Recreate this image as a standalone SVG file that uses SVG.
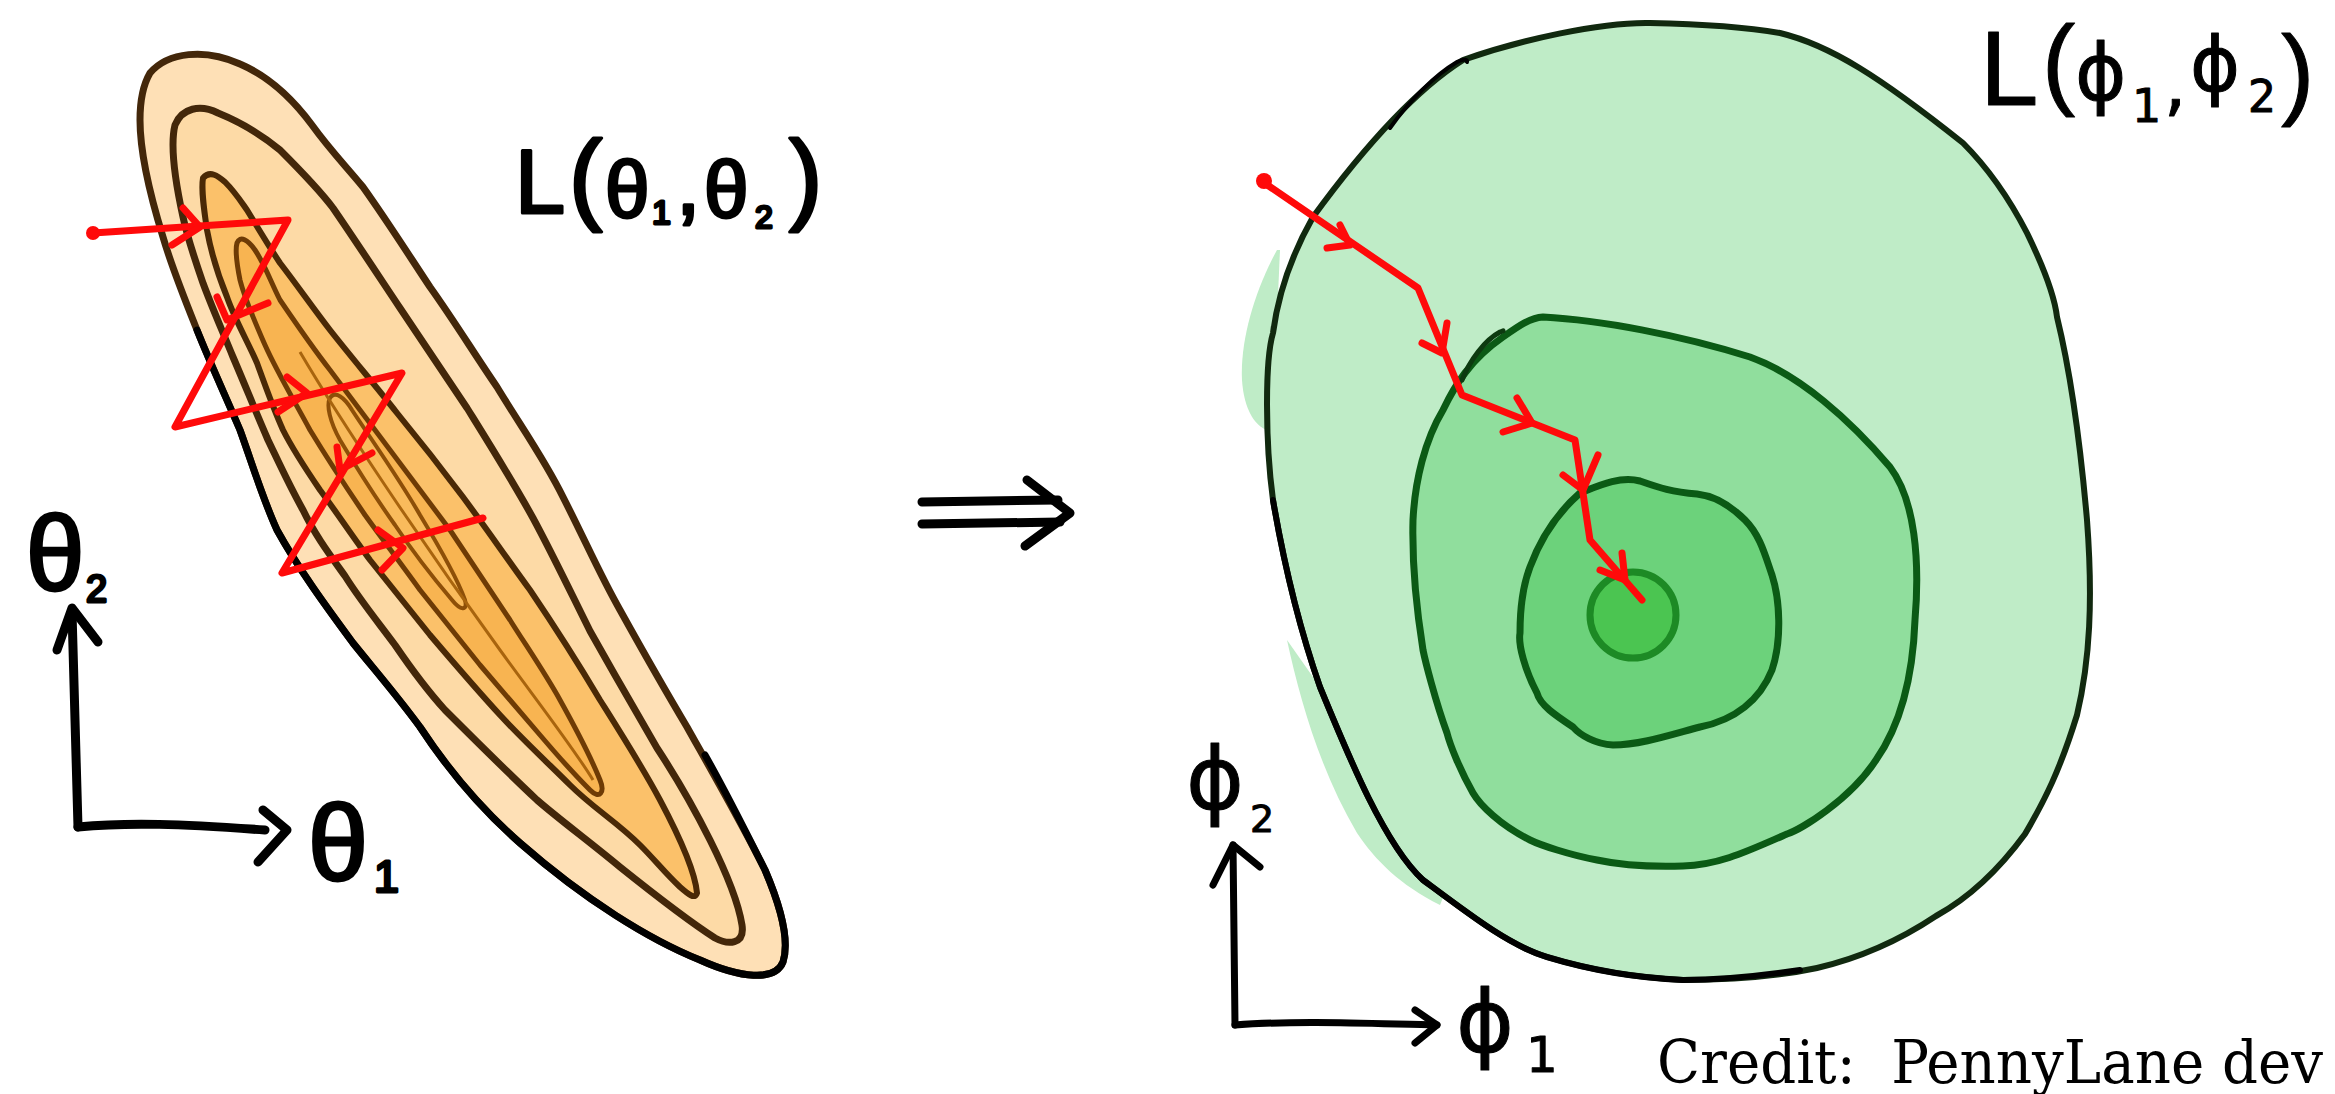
<svg xmlns="http://www.w3.org/2000/svg" width="2335" height="1094" viewBox="0 0 2335 1094">
<style>
.red{fill:none;stroke:#ff0a0a;stroke-width:7;stroke-linecap:round;stroke-linejoin:round}
.ink{fill:none;stroke:#000;stroke-width:9;stroke-linecap:round;stroke-linejoin:round}
.ink2{fill:none;stroke:#000;stroke-width:7;stroke-linecap:round;stroke-linejoin:round}
.hand{font-family:"Liberation Sans","DejaVu Sans",sans-serif;fill:#000;stroke:#000;stroke-width:3;stroke-linejoin:round}
.greek{font-family:"DejaVu Sans","Liberation Sans",sans-serif;fill:#000;stroke:#000;stroke-width:1;stroke-linejoin:round}
.brown{stroke:#43270a;stroke-width:7;stroke-linejoin:round}
.gline{stroke:#0b5a15;stroke-width:7;stroke-linejoin:round}
.credit{font-family:"DejaVu Serif Condensed","DejaVu Serif","Liberation Serif",serif;font-stretch:condensed;font-size:60px;fill:#000;white-space:pre}
</style>
<rect width="2335" height="1094" fill="#fff"/>

<g id="left-landscape">
  <path d="M150,73 C168,52 205,48 240,64 C268,76 292,98 312,125 C330,150 345,165 363,187 C390,225 410,257 430,287 C455,322 475,355 497,387 C520,425 545,460 563,497 C585,540 600,575 620,610 C645,655 665,690 687,727 C710,768 740,820 765,870 C780,905 790,940 783,962 C775,982 740,978 700,960 C650,940 585,900 520,843 C480,808 445,765 420,727 C395,693 373,668 353,643 C325,605 298,568 277,530 C262,497 252,463 240,430 C226,397 211,365 197,330 C185,300 172,268 163,237 C150,195 140,155 140,120 C140,100 143,85 150,73 Z" fill="#fee0b6" class="brown"/>
  <path d="M197,330 C211,365 226,397 240,430 C252,463 262,497 277,530 C298,568 325,605 353,643 C373,668 395,693 420,727 C445,765 480,808 520,843 C585,900 650,940 700,960 C740,978 775,982 783,962 C790,940 780,905 765,870 C745,830 725,790 705,755" fill="none" stroke="#000" stroke-width="7" stroke-linecap="round"/>
  <path d="M175,125 C182,108 200,104 218,113 C240,122 262,135 280,150 C300,170 318,188 333,208 C355,240 378,275 400,308 C423,342 445,375 467,408 C490,445 512,480 533,518 C553,555 572,595 590,631 C612,670 635,710 657,748 C678,780 695,810 710,840 C725,870 738,900 742,925 C745,945 728,945 715,938 C690,922 655,895 620,867 C590,842 560,820 537,800 C505,770 475,740 445,710 C425,688 410,667 395,645 C378,622 360,600 345,576 C330,555 315,535 303,510 C290,487 280,465 268,440 C255,410 245,385 233,357 C222,330 211,305 203,283 C195,260 188,240 183,217 C176,185 170,145 175,125 Z" fill="#fddaa6" class="brown"/>
  <path d="M203,178 C210,170 218,176 225,182 C235,192 240,200 247,210 C258,228 268,245 280,263 C297,285 313,308 330,330 C352,358 375,385 397,413 C420,441 442,469 463,497 C486,528 508,560 530,590 C555,627 578,663 600,700 C622,735 643,768 660,800 C677,832 695,870 697,893 C695,900 688,894 680,887 C665,873 655,860 640,845 C617,822 593,808 570,785 C547,762 523,740 500,715 C477,690 453,662 430,635 C410,610 390,585 370,560 C353,537 337,513 320,490 C305,468 293,450 283,430 C273,408 265,385 257,363 C247,340 235,320 227,297 C218,275 211,252 207,230 C204,210 201,190 203,178 Z" fill="#fbc16a" stroke="#4a2906" stroke-width="6" stroke-linejoin="round"/>
  <path d="M237,243 C240,235 248,240 255,250 C265,265 270,280 280,300 C297,325 312,347 330,370 C350,397 370,423 390,450 C410,477 430,503 450,530 C470,560 490,590 510,620 C527,647 545,673 560,700 C575,727 590,755 600,780 C605,792 600,800 590,790 C573,773 557,755 540,735 C520,712 500,688 480,665 C460,640 440,615 420,590 C402,565 383,540 365,515 C346,487 327,458 310,430 C295,402 277,372 265,345 C255,322 245,300 240,280 C237,265 235,250 237,243 Z" fill="#f8b451" stroke="#6e3b05" stroke-width="5" stroke-linejoin="round"/>
  <path d="M330,398 C335,390 345,398 352,410 C375,445 400,480 420,515 C440,548 458,580 465,600 C468,612 460,610 452,600 C435,580 415,555 395,525 C375,497 355,465 340,440 C330,422 326,405 330,398 Z" fill="#f9bb5c" stroke="#8d4f08" stroke-width="4"/>
  <path d="M300,352 C340,420 420,540 500,650 C540,705 575,750 593,780" fill="none" stroke="#a8640e" stroke-width="3"/>
</g>

<g id="right-landscape">
  <path d="M1277,250 C1255,290 1240,340 1242,380 C1244,410 1255,428 1272,432 L1280,250 Z" fill="#bfecc7"/>
  <path d="M1287,640 C1300,700 1320,770 1357,833 C1375,860 1400,885 1440,905 L1450,880 C1400,840 1350,760 1320,687 Z" fill="#bfecc7"/>
  <path d="M1463,60 C1520,40 1600,22 1650,23 C1700,24 1740,26 1780,33 C1830,45 1880,77 1963,143 C1990,170 2010,200 2027,233 C2045,270 2055,300 2057,317 C2070,370 2080,440 2087,520 C2093,600 2090,660 2077,715 C2060,770 2045,800 2025,834 C1995,875 1965,900 1936,916 C1900,940 1860,958 1817,968 C1770,978 1720,980 1683,980 C1640,978 1590,970 1547,957 C1510,946 1470,915 1423,880 C1385,845 1350,760 1320,687 C1300,630 1285,570 1273,500 C1265,440 1265,360 1273,333 C1280,280 1300,240 1313,217 C1340,180 1400,100 1463,60 Z" fill="#bfecc7" stroke="#11290f" stroke-width="6" stroke-linejoin="round"/>
  <path d="M1273,500 C1285,570 1300,630 1320,687 C1350,760 1385,845 1423,880 C1470,915 1510,946 1547,957 C1590,970 1640,978 1683,980 C1720,980 1760,976 1800,970" fill="none" stroke="#000" stroke-width="6" stroke-linecap="round"/>
  <path d="M1390,128 C1410,100 1435,75 1457,62 C1464,58 1468,60 1467,62" fill="none" stroke="#000" stroke-width="4" stroke-linecap="round"/>
  <path d="M1543,317 C1600,320 1680,335 1750,357 C1800,375 1850,420 1890,467 C1915,500 1920,560 1915,620 C1912,700 1890,740 1876,760 C1850,800 1800,830 1787,834 C1750,850 1720,865 1683,866 C1650,867 1620,865 1597,860 C1570,855 1540,845 1530,840 C1500,825 1480,805 1473,793 C1460,770 1450,745 1447,733 C1435,700 1425,660 1423,650 C1415,600 1412,560 1413,520 C1415,480 1425,440 1443,410 C1455,385 1470,360 1503,337 C1520,325 1530,318 1543,317 Z" fill="#90de9d" class="gline"/>
  <path d="M1462,380 C1470,360 1485,340 1500,332 C1505,330 1503,331 1500,332" fill="none" stroke="#0d3a10" stroke-width="5" stroke-linecap="round"/>
  <path d="M1580,493 C1600,485 1620,476 1640,481 C1660,488 1672,492 1697,494 C1715,496 1730,505 1745,520 C1760,535 1765,555 1772,575 C1780,600 1782,640 1772,670 C1760,700 1735,720 1700,727 C1670,735 1640,745 1613,745 C1595,744 1580,735 1573,727 C1555,715 1540,705 1537,693 C1525,670 1518,645 1520,633 C1520,600 1525,580 1530,567 C1540,540 1555,515 1580,493 Z" fill="#6cd27b" class="gline"/>
  <circle cx="1633" cy="615" r="43" fill="#4bc551" stroke="#1d8a25" stroke-width="7"/>
</g>

<g id="connectors">
  <circle cx="93" cy="233" r="7" fill="#ff0a0a"/>
  <path class="red" d="M93,233 L288,220 L175,427 L402,373 L282,573 L483,518"/>
  <polyline class="red" points="183,208 200,227 172,245"/>
  <polyline class="red" points="217,297 227,320 268,303"/>
  <polyline class="red" points="287,377 307,393 278,412"/>
  <polyline class="red" points="337,447 340,470 372,453"/>
  <polyline class="red" points="378,530 403,548 382,570"/>

  <circle cx="1264" cy="181" r="8" fill="#ff0a0a"/>
  <path class="red" d="M1263,182 L1418,288 L1462,395 L1575,440 L1590,540 L1642,600"/>
  <polyline class="red" points="1340,225 1350,245 1327,248"/>
  <polyline class="red" points="1447,323 1442,353 1422,343"/>
  <polyline class="red" points="1517,398 1532,423 1503,432"/>
  <polyline class="red" points="1598,455 1583,490 1563,475"/>
  <polyline class="red" points="1622,553 1625,580 1600,570"/>

  <path class="ink" d="M78,827 C76,760 74,690 72,612"/>
  <polyline class="ink" points="57,650 72,608 98,642"/>
  <path class="ink" d="M78,827 C130,822 180,824 265,830"/>
  <polyline class="ink" points="263,810 287,830 258,862"/>

  <path class="ink2" d="M1235,1025 C1234,960 1234,900 1233,845"/>
  <polyline class="ink2" points="1213,885 1233,845 1260,867"/>
  <path class="ink2" d="M1235,1025 C1300,1020 1380,1024 1437,1025"/>
  <polyline class="ink2" points="1415,1010 1437,1025 1415,1043"/>

  <path class="ink" d="M922,502 L1058,500 M922,524 L1060,522"/>
  <polyline class="ink" points="1027,480 1070,513 1025,546"/>
</g>

<g id="labels">
  <text class="hand"><tspan x="515" y="213" font-size="90">L</tspan><tspan x="569" y="211" font-size="100">(</tspan><tspan x="605" y="217" font-size="80">θ</tspan><tspan x="652" y="224" font-size="34">1</tspan><tspan x="676" y="214" font-size="88">,</tspan><tspan x="704" y="217" font-size="80">θ</tspan><tspan x="755" y="228" font-size="32">2</tspan><tspan x="789" y="211" font-size="100">)</tspan></text>
  <text class="greek"><tspan x="1980" y="105" font-size="105" font-family="Liberation Sans">L</tspan><tspan x="2042" y="96" font-size="100" font-family="Liberation Sans">(</tspan><tspan x="2075" y="100" font-size="78">ϕ</tspan><tspan x="2132" y="122" font-size="46">1</tspan><tspan x="2164" y="108" font-size="70">,</tspan><tspan x="2190" y="91" font-size="76">ϕ</tspan><tspan x="2248" y="112" font-size="44">2</tspan><tspan x="2281" y="106" font-size="100" font-family="Liberation Sans">)</tspan></text>
  <text class="hand"><tspan x="26" y="590" font-size="105">θ</tspan><tspan x="86" y="602" font-size="38">2</tspan></text>
  <text class="hand"><tspan x="308" y="880" font-size="108">θ</tspan><tspan x="374" y="892" font-size="45">1</tspan></text>
  <text class="greek"><tspan x="1186" y="809" font-size="88">ϕ</tspan><tspan x="1250" y="832" font-size="38">2</tspan></text>
  <text class="greek"><tspan x="1456" y="1052" font-size="88">ϕ</tspan><tspan x="1526" y="1072" font-size="50">1</tspan></text>
  <text class="credit" x="1657" y="1083" xml:space="preserve" textLength="666" lengthAdjust="spacingAndGlyphs">Credit:  PennyLane dev</text>
</g>
</svg>
